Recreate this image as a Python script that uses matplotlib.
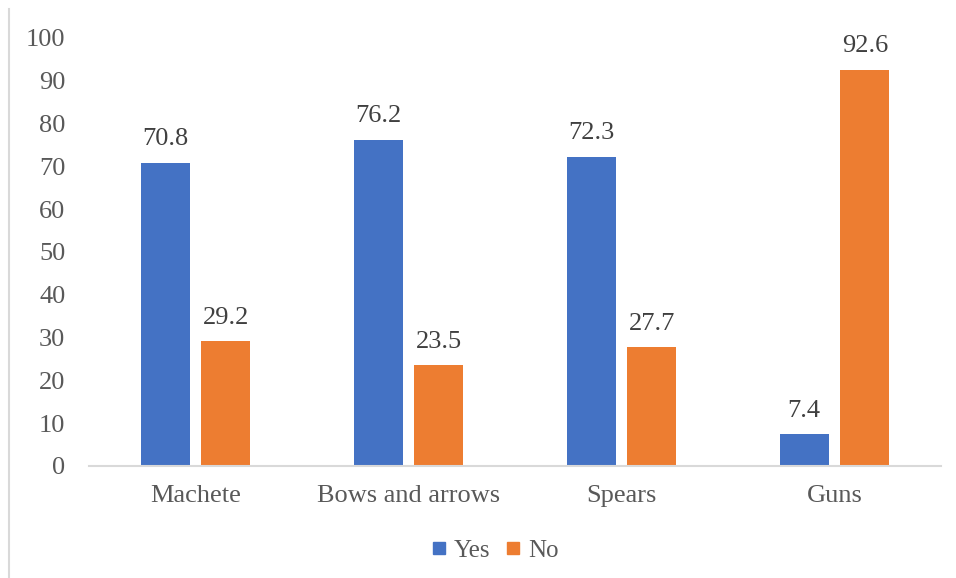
import numpy as np
import matplotlib.pyplot as plt
from matplotlib.lines import Line2D

categories = ['Machete', 'Bows and arrows', 'Spears', 'Guns']
yes_vals = [70.8, 76.2, 72.3, 7.4]
no_vals = [29.2, 23.5, 27.7, 92.6]
yticks = list(range(0, 101, 10))

blue = '#4472C4'
orange = '#ED7D31'
txt = '#595959'

plt.rcParams['font.family'] = ['Liberation Serif', 'DejaVu Serif']

fig = plt.figure(figsize=(9.56, 5.78), dpi=100)
ax = fig.add_axes([0.0931, 0.1938, 0.8912, 0.7405])

x = np.arange(len(categories))
w = 0.23
b1 = ax.bar(x - 0.143, yes_vals, w, color=blue, label='Yes')
b2 = ax.bar(x + 0.143, no_vals, w, color=orange, label='No')

for bars, vals in ((b1, yes_vals), (b2, no_vals)):
    for rect, v in zip(bars, vals):
        ax.annotate(f'{v}', (rect.get_x() + rect.get_width() / 2, v),
                    xytext=(0, 9), textcoords='offset points',
                    ha='center', va='bottom', fontsize=19, color='#404040')

ax.set_xlim(-0.5, len(categories) - 0.5)
ax.set_ylim(0, 100)
ax.set_yticks(yticks)
ax.set_xticks(x)
ax.set_xticklabels(categories)
ax.tick_params(axis='y', length=0, pad=17, labelsize=19, labelcolor=txt)
ax.tick_params(axis='x', length=0, pad=14, labelsize=19, labelcolor=txt)
for s in ['top', 'right', 'left']:
    ax.spines[s].set_visible(False)
ax.spines['bottom'].set_color('#d9d9d9')
ax.spines['bottom'].set_linewidth(1.5)

handles = [Line2D([], [], marker='s', linestyle='', markersize=8, color=blue),
           Line2D([], [], marker='s', linestyle='', markersize=8, color=orange)]
fig.legend(handles, ['Yes', 'No'], loc='center', bbox_to_anchor=(0.518, 0.047),
           ncol=2, frameon=False, fontsize=18, handlelength=0.6,
           handletextpad=0.3, columnspacing=0.6, labelcolor=txt)

fig.add_artist(Line2D([0.0094, 0.0094], [0, 0.985], color='#d9d9d9', lw=1.5,
                      transform=fig.transFigure))

fig.savefig('out.png', dpi=100)
